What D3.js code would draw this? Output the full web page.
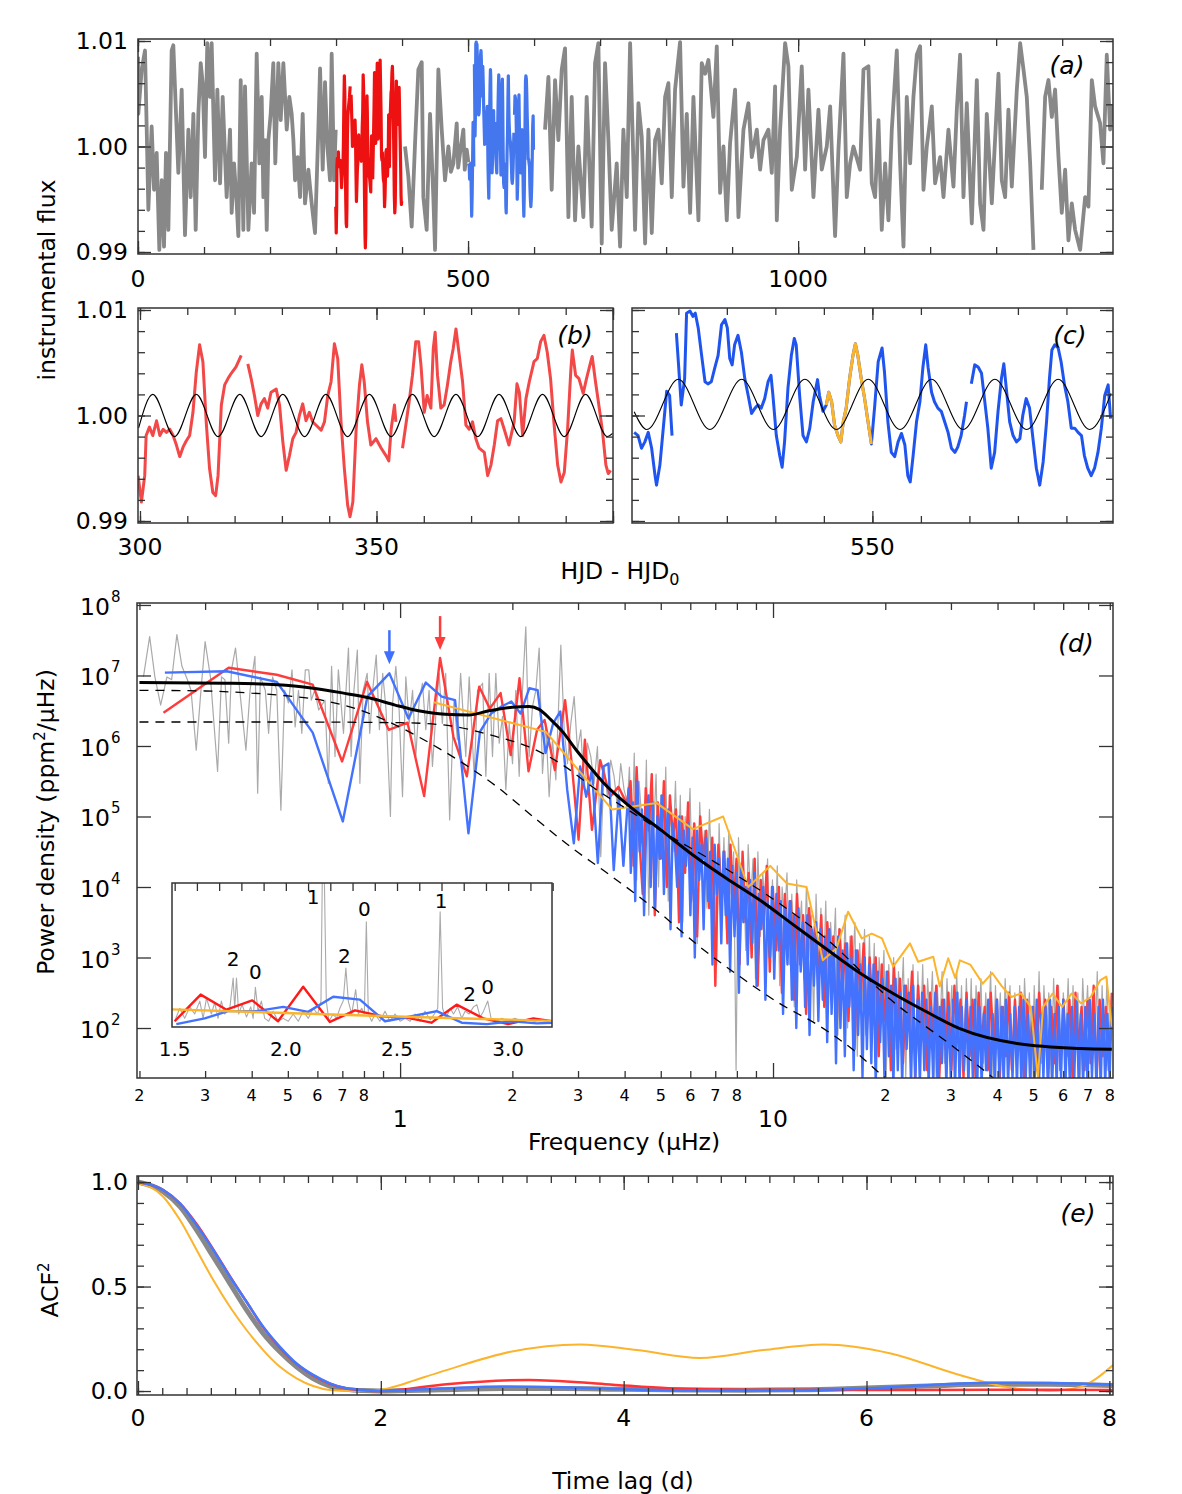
<!DOCTYPE html>
<html>
<head>
<meta charset="utf-8">
<script src="https://cdn.jsdelivr.net/npm/d3@7"></script>
<style>
  body { margin: 0; background: #fff; }
  svg text { font-family: "DejaVu Sans", sans-serif; fill: #000; }
</style>
</head>
<body>
<svg id="fig" width="1182" height="1494"></svg>
<script>
// ---------------- data ----------------
// light curves: [HJD - HJD0 (d), flux - 1 (ppt)], null = gap
const lcGray = [
  [0,8.5],[0.5,3.1],[5.6,7.3],[10.6,9.1],[13.2,1.6],[15.7,-6.0],[20.7,1.9],[24.3,-4.1],[28.3,-0.6],[32.3,-9.8],[35.9,-3.2],[39.4,-9.5],[42.4,-0.6],[46,-7.9],[51,9.1],[53.5,9.6],[57.6,3.1],[61.1,-2.5],[66.2,5.4],[71.2,-8.4],[76.3,1.6],[79.8,-4.8],[83.9,3.1],[87.4,-7.9],[91.4,3.1],[95,7.9],[98,6],[101.5,-1.0],[105,9.8],[109,4.7],[111.6,9.8],[116.7,-3.2],[120.2,5.4],[124.3,-3.5],[128.3,4.7],[134.3,-4.8],[139.4,1.6],[141.9,-6.3],[145.5,-1.6],[149.5,-5.4],[152,-8.5],[155.6,6.3],[159.6,-7.9],[162.1,5.7],[167.2,-7.9],[172.2,-1.6],[175.8,-6.3],[179.8,8.8],[183.8,-1.6],[187.4,4.7],[189.9,-4.8],[192.4,0.6],[195,-7.9],[197.5,0.6],[201,3.1],[205,7.9],[208,-1.6],[212.6,7.9],[216.2,2.5],[220.2,7.9],[225.3,1.6],[229.3,4.7],[232.8,3.1],[235.4,0.6],[237.9,-3.2],[241.9,-1],[245.5,-4.8],[249.5,3.1],[253,-5.4],[258.1,-2.2],[263.1,-5.4],[268.2,-8.2],[273.2,1.6],[275.8,7.4],[279.8,-2.2],[283.3,6.1],[286.9,0],[290.9,-3.2],[293.4,8.8],[297,-3.2],[299.5,1.6],
  null,
  [404.5,0],[409.6,-2.9],[414.6,-7.6],[419.7,0.3],[424.7,7.3],[429.8,8],[432.3,-4.8],[437.3,-7.9],[442.4,3.1],[447.4,-4.8],[450,-9.8],[455,7.3],[460.1,1.6],[465.1,-3.2],[470.2,0],[474,-2.4],[477.8,-1.6],[482.8,2.2],[485,-2.0],[487.9,-0.6],[492.9,1.6],[495,-2.2],[498,-0.3],[500.5,-1.5],
  null,
  [616.6,1.6],[621.7,6.6],[626.7,-4.1],[631.8,6.3],[636.8,0.6],[641.9,7.3],[646.9,9.3],[652,-6.7],[657,4.7],[662.1,-7],[667.1,0],[674.7,-6.7],[679.7,4.7],[687.3,-7.6],[692.4,7.9],[697.4,9.8],[702.5,-9.2],[707.5,7.9],[712.6,0.6],[717.6,-7.9],[725.2,-1.6],[730.3,-9.5],[735.3,1.6],[740.4,-4.8],[745.5,9.8],[750.5,-1.6],[753,-7.9],[758.1,4.1],[763.1,0.9],[768.2,-9.2],[773.2,1.6],[778.3,-8.2],[783.3,0.6],[788.4,1.6],[793.4,-3.5],[798.5,4.7],[803.5,6],[808.6,-4.8],[813.6,5.4],[821.2,9.9],[826.3,-3.8],[831.3,3.1],[836.4,-6.3],[841.4,4.7],[849,-7],[854,7.9],[859.1,6.9],[864.1,8.2],[871.7,2.8],[876.8,9.5],[881.8,-4.4],[886.9,0],[891.9,-7],[896.9,0.3],[904.5,5.4],[909.6,-6.7],[917.2,1.6],[924.7,4.1],[929.8,-1],[937.4,1.6],[942.4,-2.2],[947.5,0.6],[955,1.6],[960.1,-2.5],[965.1,5.7],[967.7,-7],[972.7,1.6],[980.3,9.8],[985.3,7.6],[990.4,-4.1],[998,-1],[1005.5,7.6],[1010.6,-2.2],[1015.6,5.4],[1023.2,-4.8],[1030.8,3.5],[1035.8,-2.2],[1043.4,0],[1048.5,3.8],[1056,-8.5],[1061.1,-0.3],[1068.7,8.8],[1073.7,-4.8],[1078.8,-1.6],[1083.8,0],[1093.9,-2.2],[1099,7.3],[1106.5,7.6],[1111.6,-3.5],[1116.6,-4.8],[1121.7,2.5],[1126.7,-7.9],[1131.8,-1.6],[1136.8,-7],[1141.9,1.6],[1149.5,9.1],[1154.5,-1.6],[1159.6,-9.5],[1164.6,4.7],[1169.7,-1.6],[1174.7,4.7],[1179.8,8.7],[1184.8,9.5],[1189.9,-4.1],[1194.9,0],[1202.5,3.8],[1207.5,-3.5],[1215.1,-1],[1220.2,-4.8],[1227.7,1.6],[1235.3,-3.8],[1240.4,3.5],[1245.4,8.7],[1250.5,-4.8],[1255.5,4.1],[1263.1,-7.3],[1270.7,6.3],[1275.7,-5.4],[1280.8,-7.9],[1285.8,3.1],[1293.4,-5.4],[1303.5,6.9],[1308.5,-3.2],[1313.6,-4.8],[1318.6,3.5],[1323.7,-3.8],[1331.3,5.4],[1336.3,9.8],[1341.4,7.3],[1346.4,4.7],[1351.5,-1.6],[1356.5,-9.8],
  null,
  [1369.1,-4.1],[1374.2,4.7],[1379.2,6.3],[1384.3,2.8],[1389.3,5.4],[1394.4,-1],[1399.4,-6.3],[1404.5,-2.2],[1409.5,-8.9],[1414.6,-5.4],[1419.6,-7.9],[1427.2,-9.8],[1434.8,-4.8],[1439.8,-5.7],[1444.9,6.3],[1449.9,3.8],[1457.5,2.2],[1462.5,-1.6],[1467.6,8.7],[1472.6,1.6],[1476,4]
];

const lcRed = [
  [299.6,-5.7],[300.3,-8.2],[301.0,-5.7],[301.3,-1.9],[302.0,-1.1],[302.7,-1.9],[303.5,-0.5],[304.2,-1.9],[304.9,-1.3],[305.6,-1.6],[306.3,-1.3],[307.0,-1.9],[307.7,-2.8],[308.4,-3.9],[309.1,-3.0],[309.8,-2.4],[310.5,-1.9],[311.2,0.3],[311.9,4.1],[312.6,6.7],[313.3,5.1],[314.0,-0.6],[314.7,-5.0],[315.4,-7.3],[316.0,-7.6],[316.5,-5.7],[317.2,1.0],[317.9,2.9],[318.6,3.5],[319.3,4.0],[320.3,4.6],[321.4,5.7],
  null,
  [322.8,4.9],[323.5,3.5],[324.2,1.9],[324.9,0.0],[325.6,1.1],[326.3,1.6],[327.0,0.7],[327.7,2.2],[328.8,2.5],[329.5,1.0],[330.2,-2.5],[330.9,-5.2],[331.6,-3.8],[332.3,-2.2],[333.0,-1.6],[333.7,0.0],[334.4,1.1],[335.1,-0.5],[335.8,0.3],[336.5,-0.6],[337.2,-0.9],[338.3,-1.4],[339.0,-0.6],[339.7,1.9],[340.4,3.2],[341.1,6.8],[341.8,5.4],[342.5,-0.6],[343.2,-5.0],[343.9,-8.5],[344.4,-9.6],[345.0,-8.2],[345.7,-1.3],[346.4,2.9],[346.9,4.8],[347.4,3.2],[348.1,-0.6],[348.8,-2.8],[349.9,-2.2],[351.0,-3.1],[352.0,-3.8],[352.6,-4.3],[353.1,-1.3],[353.8,1.0],[354.1,-0.6],
  null,
  [355.5,-3.1],[356.2,-0.9],[356.9,1.3],[357.6,3.8],[358.3,7.0],[358.9,7.0],[359.4,4.8],[360.1,0.3],[360.7,1.9],[361.5,0.7],[362.0,6.3],[362.4,7.9],[362.9,3.8],[363.6,0.7],[364.3,1.0],[365.0,2.9],[365.7,5.1],[366.2,6.3],[366.8,8.2],[367.5,5.7],[368.2,3.2],[368.9,-0.9],[369.6,-1.3],[370.3,-0.6],[371.0,-2.2],[371.7,-3.1],[372.8,-3.5],[373.5,-5.7],[374.2,-4.7],[374.9,-2.8],[375.6,-0.5],[376.3,-0.3],[377.0,-1.3],[378.0,-2.8],[379.1,-0.6],[379.7,3.0],[380.2,2.2],[380.9,-1.9],[381.6,1.6],[382.3,3.2],[383.3,5.1],[384.0,5.4],[384.7,7.0],[385.4,7.6],[386.1,6.0],[386.8,3.5],[387.5,-0.6],[388.3,-4.7],[389.0,-6.3],[389.7,-5.4],[390.4,-1.3],[391.1,4.4],[391.4,6.2],[392.1,3.8],[392.8,3.5],[393.7,2.1],[394.4,3.5],[395.3,5.1],[395.6,5.6],[396.3,3.2],[397.1,0.7],[397.8,-1.6],[398.5,-4.7],[399.0,-5.5],[399.5,-5.2]
];

const lcBlue = [
  [500.9,-1.6],[501.7,-1.9],[502.4,-3.1],[503.1,-2.5],[503.8,-1.6],[504.5,-3.1],[505.2,-5.7],[505.5,-6.6],[506.2,-4.7],[506.9,-1.2],[507.6,2.3],[508.2,1.9],[508.7,-1.9],
  null,
  [509.6,7.8],[510.0,5.1],[510.6,1.0],[511.3,3.5],[511.7,9.7],[512.4,9.9],[513.0,9.4],[513.5,9.7],[514.1,8.3],[514.8,5.7],[515.5,3.2],[516.1,3.0],[516.8,3.2],[517.5,4.5],[518.2,5.7],[518.9,8.6],[519.6,9.1],[520.1,8.3],[520.6,5.4],[521.1,4.8],[521.6,6.7],[522.3,7.6],[523.0,6.0],[523.7,3.5],[524.4,1.9],[525.1,0.2],[525.8,0.7],[526.4,1.0],[527.1,0.7],[527.8,1.6],[528.5,3.2],[529.1,3.8],[529.5,1.9],[530.2,-1.9],[530.9,-3.8],[531.4,-4.9],[531.9,-2.5],[532.6,2.6],[533.3,5.7],[533.9,7.3],[534.3,6.7],[535.0,1.9],[535.7,-1.9],[536.4,-2.5],[537.1,-1.2],[537.8,1.3],[538.7,3.4],[539.1,1.9],[539.8,0.4],[540.5,1.0],[541.0,2.2],[541.6,1.3],[542.2,-0.9],[542.9,-1.9],[543.5,-2.5],[544.0,-0.6],[544.6,0.7],[545.3,3.5],[546.0,5.7],[546.5,6.8],[547.0,5.7],[547.7,3.5],[548.4,1.6],[549.1,-0.6],[549.8,-2.7],[550.5,1.0],[551.2,5.1],[552.0,6.4],[552.5,4.1],[553.2,-0.6],[553.9,-3.5],[554.6,-3.9],[555.3,-2.5],[556.0,-1.7],[556.7,-2.8],[557.3,-5.7],[557.8,-6.3],[558.4,-3.8],[559.1,-0.6],[559.8,1.3],[560.4,4.5],[561.0,6.7],[561.5,4.5],[562.2,2.2],[562.8,1.3],[563.5,0.7],[564.2,0.4],[564.9,-0.6],[565.6,-1.6],[566.3,-3.1],[567.0,-3.5],[567.6,-3.0],[568.3,-1.9],[569.0,0.0],[569.4,1.3],
  null,
  [570.4,3.0],[571.1,4.8],[571.8,4.6],[572.5,4.0],[573.1,1.6],[573.8,-1.2],[574.5,-5.0],[575.2,-3.5],[575.9,0.4],[576.6,3.5],[577.1,4.9],[577.6,2.6],[578.3,-0.6],[579.0,-1.9],[579.7,-2.5],[580.4,-2.2],[581.0,0.0],[581.7,1.6],[582.4,0.7],[583.1,-2.2],[583.8,-5.0],[584.5,-6.6],[585.2,-4.4],[585.9,-0.6],[586.5,3.5],[587.0,6.2],[587.6,6.7],[588.3,6.4],[588.9,5.1],[589.6,2.9],[590.3,1.3],[591.0,-1.2],[591.7,-1.2],[592.4,-1.6],[593.1,-1.9],[593.7,-3.8],[594.4,-5.0],[595.1,-5.7],[595.8,-5.0],[596.5,-3.5],[597.2,-1.2],[597.9,1.9],[598.6,2.9],[599.1,-0.3]
];
const orangeSpan = [540.4, 549.9];   // the stretch highlighted in orange

// fitted sinusoids, given by their extrema
const sineB = [[299.7,-1.2],[302.7,2.0],[307.3,-2.0],[311.9,2.0],[316.5,-2.0],[321.1,2.0],[325.6,-2.0],[330.2,2.0],[334.8,-2.0],[339.3,2.0],[343.9,-2.0],[348.5,2.0],[353.1,-2.0],[357.6,2.0],[362.2,-2.0],[366.8,2.0],[371.4,-2.0],[375.9,2.0],[380.5,-2.0],[385.1,2.0],[389.7,-2.0],[394.2,2.0],[398.8,-2.0],[399.9,-1.7]];
const sineC = [[500.9,0.35],[503.5,-1.33],[510.0,3.43],[516.5,-1.33],[523.05,3.43],[529.6,-1.33],[536.1,3.43],[542.6,-1.33],[549.15,3.43],[555.7,-1.33],[562.2,3.43],[568.7,-1.33],[575.25,3.43],[581.8,-1.33],[588.3,3.43],[594.8,-1.33],[599.2,2.1]];

// power spectra: [frequency (uHz), log10 power density]
const psdGrayLow = [[0.205,6.98],[0.213,7.55],[0.220,6.98],[0.228,6.58],[0.237,6.98],[0.244,6.94],[0.252,7.58],[0.260,7.13],[0.268,6.96],[0.275,6.79],[0.284,5.94],[0.292,6.75],[0.300,7.48],[0.310,6.98],[0.324,5.64],[0.332,6.98],[0.339,6.94],[0.347,6.04],[0.353,7.08],[0.362,7.39],[0.375,6.58],[0.386,5.94],[0.396,6.79],[0.408,7.27],[0.415,5.33],[0.422,6.98],[0.435,6.79],[0.444,6.18],[0.455,6.98],[0.467,6.79],[0.479,5.09],[0.490,6.79],[0.502,6.61],[0.513,7.08],[0.523,6.27],[0.534,6.79],[0.545,6.18],[0.557,7.08],[0.569,7.08],[0.578,6.65],[0.590,6.79],[0.605,6.51],[0.629,6.65],[0.642,5.47],[0.655,7.13],[0.669,5.85],[0.683,7.08],[0.705,6.18],[0.727,7.39],[0.739,5.85],[0.752,6.79],[0.768,7.36],[0.780,5.47],[0.796,6.79],[0.816,7.03],[0.829,6.18],[0.846,6.84],[0.863,7.29],[0.880,6.23],[0.898,7.03],[0.917,6.51],[0.942,5.00],[0.955,6.61],[0.974,7.13],[0.994,6.51],[1.015,5.28],[1.036,6.98],[1.058,6.32],[1.080,6.79],[1.102,5.85],[1.125,6.65],[1.148,6.89],[1.172,6.23],[1.196,6.79],[1.221,5.71],[1.246,6.42],[1.272,7.03],[1.298,6.32],[1.325,7.03],[1.358,4.95],[1.395,6.65],[1.424,6.09],[1.453,7.03],[1.500,5.85],[1.532,6.98],[1.580,5.57],[1.613,6.79],[1.664,6.89],[1.698,5.57],[1.733,7.03],[1.769,5.85],[1.806,7.03],[1.844,6.04],[1.882,6.42],[1.921,5.38],[1.961,6.32],[2.002,5.75],[2.043,6.79],[2.086,5.57],[2.129,6.79],[2.173,7.69],[2.218,5.85],[2.265,6.56],[2.312,6.79],[2.360,7.39],[2.409,5.61],[2.459,6.32],[2.510,5.28],[2.562,6.09],[2.616,5.52],[2.698,7.43],[2.754,6.23],[2.811,5.75],[2.869,6.32],[2.929,6.70],[2.990,5.94],[3.052,6.23],[3.115,5.38],[3.180,6.04],[3.246,5.85],[3.313,5.47],[3.382,5.99],[3.452,4.43],[3.524,5.71],[3.597,5.28],[3.671,5.80],[3.748,5.57],[3.825,5.14],[3.905,5.75],[3.986,5.38],[4.07,5.19]];
// dense parts: values read left to right, evenly spaced in log f between the two limits
const psdGrayHigh = [4.12, 81, [
  5.7,4.6,5.9,4.1,5.5,5.0,4.3,5.8,3.6,5.4, 4.8,5.6,4.0,5.3,4.4,5.7,3.8,5.1,4.5,5.5,
  4.2,5.3,3.5,5.0,4.6,5.4,3.9,4.9,3.2,5.2, 4.3,4.8,3.7,5.1,4.1,4.6,2.9,4.9,3.8,4.7,
  3.4,4.8,3.9,4.5,1.4,4.7,3.6,4.3,3.1,4.6, 3.8,4.4,2.7,4.5,3.3,4.2,3.7,4.4,2.9,4.1,
  3.2,4.3,2.6,4.0,3.5,4.2,2.9,3.9,2.3,4.1, 3.3,3.8,2.7,4.0,3.0,3.6,2.1,3.9,2.8,3.7,
  2.6,3.8,2.2,3.5,2.9,3.7,1.9,3.4,2.5,3.6, 2.0,3.3,2.7,3.5,1.6,3.2,2.3,3.4,1.8,3.3,
  2.1,3.2,1.6,3.0,2.4,3.1,1.4,2.9,2.0,3.0, 1.7,2.8,2.2,3.0,1.3,2.7,1.9,2.9,1.5,2.8,
  1.8,2.9,1.4,2.7,2.1,2.8,1.3,2.6,1.9,2.8, 1.5,2.7,2.0,2.6,1.3,2.8,1.7,2.6,1.4,2.7,
  1.6,2.7,1.3,2.6,1.9,2.7,1.5,2.5,1.8,2.8, 1.3,2.6,1.7,2.5,1.4,2.7,1.9,2.6,1.3,2.5,
  1.7,2.6,1.4,2.7,1.9,2.5,1.3,2.6,1.6,2.8, 1.5,2.6,1.8,2.5,1.3,2.7,1.6,2.6,1.4,2.5,
  1.8,2.7,1.4,2.6,1.6,2.5,1.3,2.7,1.9,2.6, 1.5,2.5,1.7,2.8,1.3,2.6,1.6,2.7,1.4,2.5]];
const psdRedLow = [[0.232,6.47],[0.347,7.11],[0.467,7.01],[0.583,6.87],[0.699,5.78],[0.815,6.91],[0.932,6.23],[1.047,6.33],[1.16,5.29],[1.28,7.25],[1.39,6.13],[1.51,5.57],[1.63,6.84],[1.74,6.53],[1.86,6.75],[1.98,5.87],[2.09,6.96],[2.21,5.64],[2.33,6.23],[2.44,6.37],[2.60,5.66],[2.77,6.65],[2.89,5.71],[3.01,4.67],[3.13,6.09],[3.27,4.81],[3.44,5.80],[3.66,5.28],[3.85,5.42],[4.05,5.19]];
const psdRedHigh = [4.15, 81, [
  5.5,4.3,5.7,4.6,3.9,5.4,4.8,5.6,3.6,5.2, 4.4,5.5,4.0,5.3,4.7,5.1,
  3.5,5.0,4.2,5.2,3.8,4.9,3.3,5.0,4.4,4.8, 3.7,4.7,2.6,4.6,3.9,4.5,
  3.2,4.6,3.7,4.4,2.9,4.5,3.5,4.2,3.0,4.4, 2.6,4.1,3.4,4.3,2.8,4.0,
  3.1,4.0,2.5,3.9,3.2,3.8,2.4,3.9,2.9,3.6, 2.2,3.7,3.0,3.5,2.6,3.6,
  2.3,3.5,2.8,3.3,1.9,3.4,2.5,3.2,2.1,3.3, 1.7,3.1,2.4,3.2,1.9,3.0,
  2.2,3.0,1.6,2.9,2.1,2.8,1.4,2.9,1.9,2.7, 1.5,2.6,2.0,2.8,1.3,2.6,
  1.8,2.6,1.4,2.5,1.9,2.6,1.3,2.4,1.7,2.5, 1.4,2.6,1.8,2.4,1.3,2.5,
  1.6,2.4,1.3,2.5,1.8,2.3,1.4,2.5,1.7,2.4, 1.3,2.3,1.6,2.5,1.4,2.4,
  1.7,2.5,1.3,2.4,1.6,2.3,1.4,2.5,1.8,2.4, 1.3,2.3,1.5,2.6,1.4,2.4,
  1.6,2.4,1.3,2.5,1.7,2.3,1.4,2.4,1.5,2.6, 1.3,2.4,1.6,2.3,1.4,2.5]];
const psdBlueLow = [[0.234,7.04],[0.343,7.06],[0.467,6.91],[0.583,6.19],[0.702,4.93],[0.817,6.70],[0.936,7.03],[1.053,6.39],[1.172,6.90],[1.293,6.70],[1.404,6.65],[1.525,4.76],[1.637,6.20],[1.754,6.46],[1.87,6.56],[1.987,6.63],[2.104,6.46],[2.221,6.82],[2.338,6.79],[2.455,5.90],[2.572,6.32],[2.689,6.49],[2.806,5.38],[2.923,4.62],[3.04,5.71],[3.156,5.28],[3.27,5.66],[3.39,4.34],[3.51,5.71],[3.62,5.75],[3.74,4.24],[3.86,5.3],[3.97,4.3]];
const psdBlueHigh = [4.1, 81, [
  5.4,4.2,5.2,3.8,5.5,4.5,5.1,3.6,4.9,5.3,4.0, 5.2,3.7,5.0,4.4,5.3,3.9,4.8,5.1,3.4,4.9,4.6,
  4.0,5.0,3.3,4.8,4.3,4.9,3.6,4.7,3.0,4.8,4.1, 4.6,3.4,4.7,3.8,4.5,2.9,4.6,3.9,4.4,3.2,4.5,
  3.6,4.4,2.8,4.3,3.3,4.2,2.5,4.3,3.5,4.0,2.9, 4.1,3.2,4.2,2.6,3.9,3.4,4.0,2.4,3.8,3.0,4.0,
  2.7,3.9,3.1,3.8,2.2,3.7,2.9,3.8,2.4,3.6,2.0, 3.7,2.8,3.5,2.3,3.6,1.9,3.4,2.6,3.5,2.1,3.4,
  2.4,3.3,1.8,3.4,2.2,3.2,1.5,3.3,2.0,3.1,1.6, 3.2,2.3,3.0,1.4,3.1,1.9,2.9,1.3,3.0,1.7,2.9,
  1.5,2.9,1.2,2.8,1.8,2.7,1.2,2.8,1.6,2.6,1.2, 2.7,1.4,2.5,1.2,2.6,1.7,2.5,1.2,2.6,1.3,2.4,
  1.2,2.5,1.4,2.4,1.2,2.3,1.3,2.5,1.2,2.3,1.5, 2.4,1.2,2.3,1.3,2.4,1.2,2.5,1.2,2.3,1.4,2.4,
  1.2,2.3,1.3,2.4,1.2,2.3,1.2,2.2,1.4,2.4,1.2, 2.2,1.2,2.4,1.3,2.3,1.2,2.4,1.2,2.2,1.3,2.3,
  1.2,2.3,1.2,2.4,1.3,2.2,1.2,2.3,1.2,2.4,1.2, 2.2,1.3,2.3,1.2,2.4,1.2,2.2,1.2,2.3,1.3,2.4,
  1.2,2.2,1.2,2.3,1.3,2.4,1.2,2.2,1.2,2.3,1.2, 2.4,1.3,2.2,1.2,2.3,1.2,2.4,1.2,2.2,1.3,2.3]];
const psdOrange = [[1.23,6.62],[2.46,6.20],[3.70,5.10],[4.88,5.19],[6.1,4.82],[7.35,5.0],[8.58,4.0],[9.83,4.30],[10.9,4.05],[12.3,4.0],[13.6,2.96],[14.8,3.13],[15.9,3.65],[17.3,3.27],[18.4,3.34],[19.6,3.27],[21.0,2.87],[23.3,3.20],[24.5,2.94],[26.9,3.01],[28.0,2.59],[29.5,2.99],[30.8,2.71],[31.7,2.96],[33.8,2.9],[36.5,2.63],[38.7,2.78],[41.1,2.59],[43.6,2.44],[46.2,2.49],[49.1,2.30],[51.3,1.31],[53.0,2.30],[56.2,2.49],[59.6,2.30],[63.2,2.49],[67.0,2.35],[71.1,2.44],[75.5,2.68],[78.3,2.73],[81,2.02]];
const psdModel = [[0.2,6.90],[0.34,6.89],[0.47,6.87],[0.585,6.82],[0.705,6.75],[0.83,6.68],[0.97,6.58],[1.12,6.50],[1.32,6.45],[1.53,6.44],[1.73,6.50],[2.0,6.55],[2.22,6.56],[2.36,6.52],[2.54,6.37],[2.73,6.20],[2.96,5.95],[3.21,5.72],[3.51,5.48],[4.05,5.18],[4.97,4.82],[6.11,4.45],[7.51,4.12],[9.3,3.80],[11.3,3.47],[13.9,3.12],[17.1,2.78],[21.0,2.49],[25.8,2.23],[31.7,1.99],[45.1,1.78],[66.8,1.71],[81,1.70]];
const psdDashA = [[0.2,6.79],[0.3,6.78],[0.4,6.75],[0.5,6.71],[0.6,6.66],[0.78,6.51],[0.97,6.30],[1.12,6.13],[1.48,5.75],[1.82,5.42],[2.33,4.95],[2.93,4.53],[3.5,4.24],[4.87,3.67],[6.37,3.15],[8.15,2.73],[10.4,2.35],[13.4,2.02],[16.4,1.69],[19.3,1.36],[21,1.2]];
const psdDashB = [[0.2,6.34],[0.5,6.34],[1.0,6.33],[1.3,6.30],[1.82,6.13],[2.21,5.99],[2.73,5.73],[3.36,5.38],[3.96,5.14],[5.0,4.80],[7.0,4.35],[10,3.83],[14,3.25],[20.7,2.40],[30,1.76],[38.6,1.31],[42,1.15]];
const peakArrows = [{f: 0.936, tip: 7.16, color: "#3f6fff"}, {f: 1.28, tip: 7.36, color: "#ff3c3c"}];

// inset: linear power, as a fraction of the inset height
const insGray = [[1.5,0.04],[1.523,0.13],[1.545,0.06],[1.568,0.14],[1.59,0.09],[1.613,0.18],[1.628,0.06],[1.643,0.2],[1.665,0.09],[1.68,0.17],[1.695,0.06],[1.71,0.18],[1.725,0.09],[1.748,0.13],[1.763,0.34],[1.77,0.13],[1.778,0.34],[1.788,0.09],[1.803,0.155],[1.823,0.07],[1.842,0.14],[1.853,0.06],[1.863,0.275],[1.875,0.11],[1.89,0.18],[1.905,0.06],[1.923,0.04],[1.943,0.11],[1.965,0.04],[1.988,0.06],[2.011,0.04],[2.033,0.09],[2.056,0.04],[2.078,0.11],[2.101,0.06],[2.123,0.13],[2.143,0.09],[2.158,0.18],[2.164,1.05],[2.173,1.05],[2.182,0.18],[2.194,0.04],[2.213,0.09],[2.228,0.06],[2.243,0.13],[2.258,0.18],[2.27,0.41],[2.281,0.18],[2.296,0.09],[2.314,0.26],[2.326,0.09],[2.341,0.13],[2.353,0.09],[2.362,0.73],[2.371,0.09],[2.386,0.04],[2.401,0.09],[2.423,0.04],[2.446,0.11],[2.468,0.04],[2.491,0.09],[2.514,0.04],[2.536,0.06],[2.559,0.04],[2.581,0.09],[2.604,0.04],[2.626,0.11],[2.649,0.05],[2.668,0.09],[2.683,0.13],[2.694,0.80],[2.705,0.13],[2.72,0.06],[2.739,0.13],[2.754,0.09],[2.773,0.14],[2.791,0.06],[2.806,0.11],[2.824,0.09],[2.844,0.14],[2.859,0.155],[2.874,0.07],[2.889,0.11],[2.908,0.18],[2.923,0.06],[2.949,0.04],[2.971,0.06],[3.0,0.04],[3.03,0.06],[3.06,0.04],[3.09,0.05],[3.12,0.04],[3.15,0.05],[3.18,0.04],[3.197,0.04]];
const insRed = [[1.5,0.04],[1.617,0.225],[1.733,0.12],[1.849,0.185],[1.965,0.04],[2.078,0.28],[2.198,0.035],[2.311,0.115],[2.431,0.075],[2.543,0.065],[2.655,0.03],[2.768,0.155],[2.888,0.06],[3.0,0.02],[3.113,0.06],[3.197,0.04]];
const insBlue = [[1.5075,0.02],[1.635,0.06],[1.74,0.11],[1.868,0.11],[1.988,0.14],[2.1,0.105],[2.213,0.21],[2.333,0.19],[2.446,0.04],[2.566,0.075],[2.679,0.11],[2.791,0.03],[2.904,0.02],[3.017,0.04],[3.129,0.025],[3.197,0.03]];
const insOrange = [[1.23,0.135],[2.46,0.075],[3.70,0.02]];
const modeLabels = [[1.763,0.48,"2"],[1.863,0.387,"0"],[2.123,0.907,"1"],[2.263,0.502,"2"],[2.353,0.826,"0"],[2.698,0.884,"1"],[2.826,0.236,"2"],[2.908,0.282,"0"]];

// squared autocorrelation: [time lag (d), ACF^2]
const acfGray = [[0,1.0],[0.208,0.954],[0.346,0.882],[0.483,0.77],[0.62,0.643],[0.757,0.515],[0.894,0.388],[1.031,0.276],[1.169,0.188],[1.306,0.116],[1.443,0.06],[1.58,0.024],[1.717,0.008],[1.855,0.002],[1.99,0.0],[2.5,0.006],[3.0,0.012],[3.5,0.012],[4.0,0.008],[4.5,0.005],[5.0,0.004],[5.5,0.006],[6.0,0.014],[6.5,0.024],[7.0,0.032],[7.5,0.032],[8.03,0.026]];
const acfRed = [[0,1.0],[0.208,0.962],[0.346,0.898],[0.483,0.799],[0.62,0.678],[0.757,0.55],[0.894,0.427],[1.031,0.305],[1.169,0.208],[1.306,0.13],[1.443,0.075],[1.58,0.035],[1.717,0.012],[1.855,0.004],[2.0,0.0],[2.54,0.033],[3.22,0.053],[3.85,0.033],[4.37,0.013],[5.0,0.006],[6.0,0.005],[7.0,0.006],[8.03,0.005]];
const acfBlue = [[0,1.0],[0.208,0.962],[0.346,0.898],[0.483,0.794],[0.62,0.675],[0.757,0.547],[0.894,0.427],[1.031,0.308],[1.169,0.212],[1.306,0.132],[1.443,0.077],[1.58,0.037],[1.717,0.013],[1.855,0.005],[1.99,0.0],[2.5,0.012],[3.0,0.022],[3.5,0.018],[4.0,0.008],[4.5,0.003],[5.0,0.002],[5.5,0.004],[6.0,0.012],[6.5,0.028],[7.0,0.04],[7.5,0.038],[8.03,0.03]];
const acfOrange = [[0,0.995],[0.208,0.93],[0.346,0.818],[0.483,0.675],[0.62,0.531],[0.757,0.403],[0.894,0.292],[1.031,0.196],[1.169,0.116],[1.306,0.061],[1.443,0.024],[1.58,0.005],[1.75,0.0],[1.99,0.005],[2.13,0.024],[2.27,0.05],[2.54,0.10],[3.07,0.188],[3.64,0.223],[4.11,0.196],[4.63,0.158],[5.15,0.196],[5.65,0.223],[6.2,0.18],[6.72,0.085],[7.14,0.02],[7.5,0.0],[7.76,0.02],[8.03,0.124]];

// ---------------- drawing helpers ----------------
const svg = d3.select("#fig");
const defs = svg.append("defs");
const INK = "#333";
const FS = 23.5;   // main label size

function plotArea(b, id) {
  defs.append("clipPath").attr("id", id).append("rect")
    .attr("x", b.x0).attr("y", b.y0).attr("width", b.x1 - b.x0).attr("height", b.y1 - b.y0);
  return svg.append("g").attr("clip-path", `url(#${id})`);
}
function frame(b) {
  svg.append("rect").attr("x", b.x0).attr("y", b.y0)
    .attr("width", b.x1 - b.x0).attr("height", b.y1 - b.y0)
    .attr("fill", "none").attr("stroke", INK).attr("stroke-width", 1.5);
}
function inTicks(axis, scale, vals, len, tx, ty) {
  const g = svg.append("g").attr("transform", `translate(${tx},${ty})`)
    .call(axis(scale).tickValues(vals).tickSize(-len).tickSizeOuter(0).tickFormat(""));
  g.select(".domain").remove();
  g.selectAll("line").attr("stroke", INK).attr("stroke-width", 1.3);
}
function xTicks(b, x, vals, len) {
  inTicks(d3.axisBottom, x, vals, len, 0, b.y1);
  inTicks(d3.axisTop, x, vals, len, 0, b.y0);
}
function yTicks(b, y, vals, len) {
  inTicks(d3.axisLeft, y, vals, len, b.x0, 0);
  inTicks(d3.axisRight, y, vals, len, b.x1, 0);
}
function txt(x, y, s, size, anchor = "middle") {
  return svg.append("text").attr("x", x).attr("y", y)
    .attr("font-size", size).attr("text-anchor", anchor).text(s);
}
function tag(x, y, s) {
  txt(x, y, s, 25).attr("font-style", "italic");
}
function plot(g, data, x, y, color, width, curve) {
  const line = d3.line().defined(d => d !== null).x(d => x(d[0])).y(d => y(d[1]));
  if (curve) line.curve(curve);
  return g.append("path").datum(data).attr("fill", "none").attr("stroke", color)
    .attr("stroke-width", width).attr("stroke-linejoin", "round").attr("d", line);
}
function spread([f0, f1, vals]) {
  const n = vals.length;
  return vals.map((v, i) => [f0 * Math.pow(f1 / f0, i / (n - 1)), v]);
}
const fluxLabel = v => (1 + v / 1000).toFixed(2);
const fluxMinor = d3.range(-10, 10.5, 2);
const fluxMajor = [-10, 0, 10];

// ---------------- panel (a) ----------------
const A = {x0: 138, x1: 1113, y0: 39, y1: 254};
const xa = d3.scaleLinear().domain([0, 1477]).range([A.x0, A.x1]);
const ya = d3.scaleLinear().domain([-10.19, 10.19]).range([A.y1, A.y0]);
const ga = plotArea(A, "clipA");
plot(ga, lcGray, xa, ya, "#888888", 3.8);
plot(ga, lcRed, xa, ya, "#ee1111", 3.2);
plot(ga, lcBlue, xa, ya, "#4477ee", 3.2);
frame(A);
xTicks(A, xa, d3.range(0, 1477, 100), 7);
xTicks(A, xa, [0, 500, 1000], 13);
yTicks(A, ya, fluxMinor, 7);
yTicks(A, ya, fluxMajor, 13);
[0, 500, 1000].forEach(v => txt(xa(v), 287, v, FS));
fluxMajor.forEach(v => txt(128, ya(v) + 8, fluxLabel(v), FS, "end"));
tag(1067, 74, "(a)");

// ---------------- panel (b) ----------------
const B = {x0: 138, x1: 613, y0: 308, y1: 523};
const xb = d3.scaleLinear().domain([299.58, 400]).range([B.x0, B.x1]);
const yb = d3.scaleLinear().domain([-10.19, 10.19]).range([B.y1, B.y0]);
const gb = plotArea(B, "clipB");
plot(gb, lcRed, xb, yb, "#f24848", 3);
plot(gb, sineB, xb, yb, "#000", 1.1, d3.curveMonotoneX);
frame(B);
xTicks(B, xb, d3.range(300, 401, 10), 7);
xTicks(B, xb, [300, 350, 400], 12);
yTicks(B, yb, fluxMinor, 7);
yTicks(B, yb, fluxMajor, 13);
[300, 350].forEach(v => txt(xb(v), 555, v, FS));
fluxMajor.forEach(v => txt(128, yb(v) + 8, fluxLabel(v), FS, "end"));
tag(575, 344, "(b)");

// ---------------- panel (c) ----------------
const C = {x0: 632, x1: 1113, y0: 308, y1: 523};
const xc = d3.scaleLinear().domain([500.45, 599.6]).range([C.x0, C.x1]);
const yc = d3.scaleLinear().domain([-10.19, 10.19]).range([C.y1, C.y0]);
const gc = plotArea(C, "clipC");
plot(gc, lcBlue, xc, yc, "#1f55ee", 3);
plot(gc, lcBlue.filter(d => d && d[0] >= orangeSpan[0] && d[0] <= orangeSpan[1]), xc, yc, "#fbb42c", 3);
plot(gc, sineC, xc, yc, "#000", 1.1, d3.curveMonotoneX);
frame(C);
xTicks(C, xc, d3.range(510, 600, 10), 7);
xTicks(C, xc, [550], 12);
yTicks(C, yc, fluxMinor, 7);
yTicks(C, yc, fluxMajor, 13);
txt(xc(550), 555, 550, FS);
tag(1070, 344, "(c)");

svg.append("text").attr("font-size", FS).attr("text-anchor", "middle")
  .attr("transform", "translate(55,280) rotate(-90)").text("instrumental flux");
const hjd = txt(620, 579, "HJD - HJD", FS);
hjd.append("tspan").attr("font-size", 16).attr("dy", 6).text("0");

// ---------------- panel (d) ----------------
const D = {x0: 137, x1: 1113, y0: 603, y1: 1078};
const xd = d3.scaleLog().domain([0.197, 81.6]).range([D.x0, D.x1]);
const yl = d3.scaleLinear().domain([1.291, 8.028]).range([D.y1, D.y0]);   // log10 power
const gd = plotArea(D, "clipD");
plot(gd, psdGrayLow.concat(spread(psdGrayHigh)), xd, yl, "#aaaaaa", 1.2);
plot(gd, psdRedLow.concat(spread(psdRedHigh)), xd, yl, "#ff3c3c", 2.4);
plot(gd, psdBlueLow.concat(spread(psdBlueHigh)), xd, yl, "#4372ff", 2.4);
plot(gd, psdOrange, xd, yl, "#fbb42c", 2);
[psdDashA, psdDashB].forEach(dsh =>
  plot(gd, dsh, xd, yl, "#000", 1.3, d3.curveMonotoneX).attr("stroke-dasharray", "9,7"));
plot(gd, psdModel, xd, yl, "#000", 3, d3.curveMonotoneX);
peakArrows.forEach(a => {
  const x = xd(a.f), yT = yl(a.tip);
  svg.append("line").attr("x1", x).attr("x2", x).attr("y1", yT - 34).attr("y2", yT - 10)
    .attr("stroke", a.color).attr("stroke-width", 2.5);
  svg.append("path").attr("d", `M${x - 5.5},${yT - 13}L${x + 5.5},${yT - 13}L${x},${yT}Z`).attr("fill", a.color);
});
frame(D);
const decades = [0.1, 1, 10];
const fMinor = decades.flatMap(d => d3.range(2, 10).map(k => k * d)).filter(v => v > 0.197 && v < 81.6);
const lead = v => Math.round(v / Math.pow(10, Math.floor(Math.log10(v) + 1e-9)));
xTicks(D, xd, fMinor, 7);
xTicks(D, xd, [1, 10], 15);
const pDecades = d3.range(2, 9);
yTicks(D, yl, pDecades, 14);
fMinor.filter(v => lead(v) <= 8).forEach(v => txt(xd(v), 1101, lead(v), 16));
[1, 10].forEach(v => txt(xd(v), 1127, v, FS));
pDecades.forEach(p => {
  txt(110, yl(p) + 10, "10", FS, "end");
  svg.append("text").attr("x", 111).attr("y", yl(p) - 3).attr("font-size", 15).text(p);
});
tag(1076, 652, "(d)");
txt(624, 1150, "Frequency (μHz)", FS);
const pw = svg.append("text").attr("font-size", FS).attr("text-anchor", "middle")
  .attr("transform", "translate(54,822) rotate(-90)");
pw.append("tspan").text("Power density (ppm");
pw.append("tspan").attr("font-size", 15).attr("dy", -9).text("2");
pw.append("tspan").attr("dy", 9).text("/μHz)");

// inset
const I = {x0: 172, x1: 552, y0: 883, y1: 1027};
const xi = d3.scaleLinear().domain([1.488, 3.197]).range([I.x0, I.x1]);
const yi = d3.scaleLinear().domain([0, 1]).range([I.y1, I.y0]);
svg.append("rect").attr("x", I.x0).attr("y", I.y0).attr("width", I.x1 - I.x0)
  .attr("height", I.y1 - I.y0).attr("fill", "#fff");
const gi = plotArea(I, "clipI");
plot(gi, insGray, xi, yi, "#aaaaaa", 1.1);
plot(gi, insRed, xi, yi, "#ff1a1a", 2.4);
plot(gi, insBlue, xi, yi, "#4372ff", 2.4);
plot(gi, insOrange, xi, yi, "#fbb42c", 2.4);
frame(I);
inTicks(d3.axisTop, xi, d3.range(15, 33).map(v => v / 10), 8, 0, I.y0);
[1.5, 2.0, 2.5, 3.0].forEach(v => txt(xi(v), 1056, v.toFixed(1), 20));
modeLabels.forEach(([f, v, s]) => txt(xi(f), yi(v) + 8, s, 20));

// ---------------- panel (e) ----------------
const E = {x0: 137, x1: 1113, y0: 1176, y1: 1395};
const xe = d3.scaleLinear().domain([-0.008, 8.03]).range([E.x0, E.x1]);
const ye = d3.scaleLinear().domain([-0.019, 1.029]).range([E.y1, E.y0]);
const ge = plotArea(E, "clipE");
plot(ge, acfGray, xe, ye, "#888888", 5, d3.curveMonotoneX);
plot(ge, acfOrange, xe, ye, "#fbb42c", 2, d3.curveMonotoneX);
plot(ge, acfRed, xe, ye, "#ff3333", 2.5, d3.curveMonotoneX);
plot(ge, acfBlue, xe, ye, "#4479ff", 2.5, d3.curveMonotoneX);
frame(E);
xTicks(E, xe, d3.range(0, 41).map(v => v / 5), 7);
xTicks(E, xe, [0, 2, 4, 6, 8], 14);
yTicks(E, ye, d3.range(0, 11).map(v => v / 10), 7);
yTicks(E, ye, [0, 0.5, 1], 14);
[0, 2, 4, 6, 8].forEach(v => txt(xe(v), 1426, v, FS));
[0, 0.5, 1].forEach(v => txt(128, ye(v) + 8, v.toFixed(1), FS, "end"));
tag(1078, 1222, "(e)");
txt(623, 1489, "Time lag (d)", FS);
const acfT = svg.append("text").attr("font-size", FS).attr("text-anchor", "middle")
  .attr("transform", "translate(58,1290) rotate(-90)");
acfT.append("tspan").text("ACF");
acfT.append("tspan").attr("font-size", 15).attr("dy", -9).text("2");
</script>
</body>
</html>
